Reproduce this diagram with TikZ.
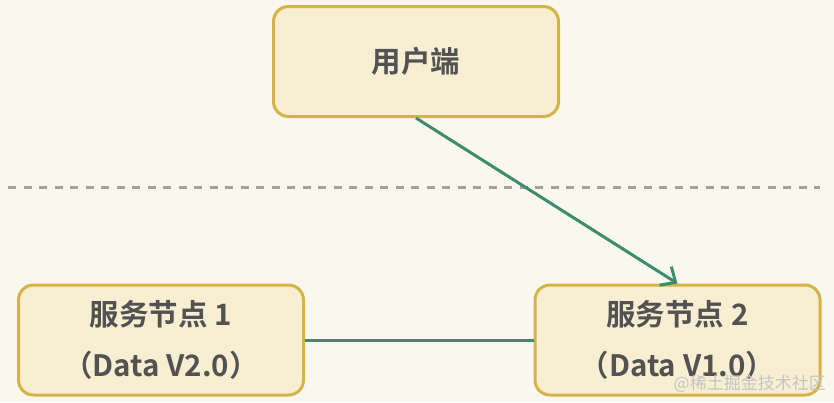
\documentclass[tikz,border=0pt]{standalone}
\usepackage{fontspec}
\newfontfamily\cjkbold{Noto Sans CJK SC Bold}
\newfontfamily\cjkreg{Noto Sans CJK SC}
\usetikzlibrary{arrows.meta}
\definecolor{bgc}{HTML}{FAF7EE}
\definecolor{boxfill}{HTML}{F8EFD3}
\definecolor{boxline}{HTML}{D5B446}
\definecolor{txtc}{HTML}{525252}
\definecolor{arrc}{HTML}{3D8C6B}
\definecolor{dashc}{HTML}{A3A398}
\definecolor{wmc}{HTML}{C4C4C4}
\tikzset{
  boxnode/.style={draw=boxline, line width=3pt, fill=boxfill, rounded corners=15pt,
    minimum width=285pt, minimum height=110pt, inner sep=0pt, align=center,
    text=txtc, font=\cjkbold\fontsize{29.5}{51}\selectfont},
  conn/.style={draw=arrc, line width=3pt},
  sepline/.style={draw=dashc, line width=3pt, dash pattern=on 8pt off 7.5pt},
}
\begin{document}
\begin{tikzpicture}[x=1pt,y=-1pt]
\fill[bgc] (0,0) rectangle (834,402);
\useasboundingbox (0,0) rectangle (834,402);
\coordinate (dl) at (8,187);
\coordinate (dr) at (820,187);
\draw[sepline] (dl) -- (dr);
\node[boxnode] (user) at (416,61.5) {用户端};
\node[boxnode] (n1) at (161,340) {服务节点 1\\（Data V2.0）};
\node[boxnode] (n2) at (677.5,340) {服务节点 2\\（Data V1.0）};
\draw[conn, -{Straight Barb[length=12pt, width=22pt, line width=3pt]}] (user.south) -- (n2.north);
\draw[conn] (n1.east) -- (n2.west);
\node[text=wmc, font=\cjkreg\fontsize{17}{20}\selectfont, anchor=east, inner sep=0pt] (wm) at (826,384) {@稀土掘金技术社区};
\end{tikzpicture}
\end{document}
